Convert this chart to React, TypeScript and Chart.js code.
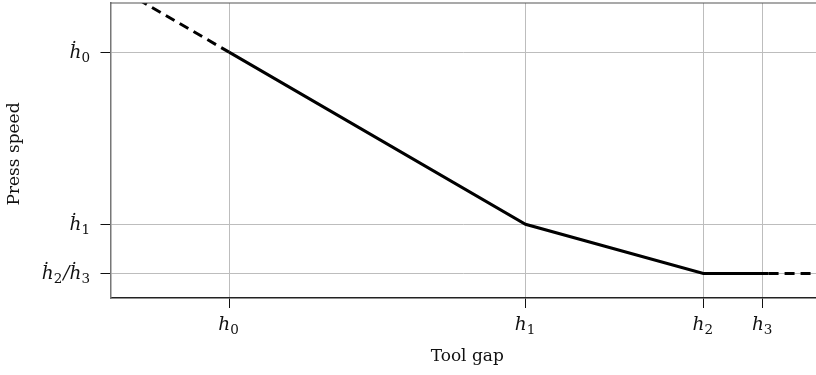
import React, { useEffect, useRef } from "react";
import { Chart, registerables } from "chart.js";

Chart.register(...registerables);

// Knot positions (data units)
const xTickValues = [2, 7, 10, 11];
const xTickLabels = ["h_0", "h_1", "h_2", "h_3"];
const yTickValues = [5.5, 2, 1];
const yTickLabels = ["ḣ_0", "ḣ_1", "ḣ_2/ḣ_3"];

// Curve segments
const leadX = [0, 2];
const leadY = [6.9, 5.5];
const solidX = [2, 7, 10, 11.1];
const solidY = [5.5, 2, 1, 1];
const tailX = [11.1, 11.9];
const tailY = [1, 1];

const xTitle = "Tool gap";
const yTitle = "Press speed";

const SERIF = '"DejaVu Serif", "Liberation Serif", serif';

function toPts(xs: number[], ys: number[]) {
  return xs.map((x, i) => ({ x, y: ys[i] }));
}

function parseLabel(s: string) {
  const segs: { text: string; sub: boolean }[] = [];
  let i = 0;
  while (i < s.length) {
    if (s[i] === "_") {
      segs.push({ text: s[i + 1], sub: true });
      i += 2;
    } else {
      let j = i;
      let t = "";
      while (j < s.length && s[j] !== "_") {
        t += s[j];
        j++;
      }
      segs.push({ text: t, sub: false });
      i = j;
    }
  }
  return segs;
}

const MAIN_FONT = `italic 18.5px ${SERIF}`;
const SUB_FONT = `13.5px ${SERIF}`;

function drawMath(ctx: CanvasRenderingContext2D, s: string, x: number, baseline: number, align: "center" | "right") {
  const segs = parseLabel(s);
  let total = 0;
  const widths = segs.map((sg) => {
    ctx.font = sg.sub ? SUB_FONT : MAIN_FONT;
    const w = ctx.measureText(sg.text).width + (sg.sub ? 1 : 0);
    total += w;
    return w;
  });
  let cx = align === "center" ? x - total / 2 : x - total;
  ctx.textAlign = "left";
  ctx.textBaseline = "alphabetic";
  ctx.fillStyle = "#111";
  segs.forEach((sg, k) => {
    ctx.font = sg.sub ? SUB_FONT : MAIN_FONT;
    ctx.fillText(sg.text, cx, baseline + (sg.sub ? 4 : 0));
    cx += widths[k];
  });
}

const labelPlugin = {
  id: "labelPlugin",
  afterDraw(chart: any) {
    const ctx: CanvasRenderingContext2D = chart.ctx;
    const { chartArea, scales } = chart;
    ctx.save();
    ctx.strokeStyle = "#555";
    ctx.lineWidth = 1.2;
    ctx.beginPath();
    ctx.moveTo(chartArea.left, chartArea.top);
    ctx.lineTo(chartArea.right, chartArea.top);
    ctx.stroke();
    xTickValues.forEach((v, i) => {
      const px = scales.x.getPixelForValue(v);
      drawMath(ctx, xTickLabels[i], px, 330, "center");
    });
    yTickValues.forEach((v, i) => {
      const py = scales.y.getPixelForValue(v);
      drawMath(ctx, yTickLabels[i], 91, py + 6, "right");
    });
    ctx.fillStyle = "#111";
    ctx.font = `17px ${SERIF}`;
    ctx.textAlign = "center";
    ctx.textBaseline = "middle";
    ctx.fillText(xTitle, (chartArea.left + chartArea.right) / 2 + 4, 357);
    ctx.translate(15, 154);
    ctx.rotate(-Math.PI / 2);
    ctx.fillText(yTitle, 0, 0);
    ctx.restore();
  },
};

export default function App() {
  const ref = useRef<HTMLCanvasElement>(null);
  useEffect(() => {
    if (!ref.current) return;
    const chart = new Chart(ref.current, {
      type: "line",
      data: {
        datasets: [
          {
            data: toPts(leadX, leadY),
            borderColor: "#000",
            borderWidth: 3,
            borderDash: [10, 6],
            pointRadius: 0,
            borderCapStyle: "butt",
          },
          {
            data: toPts(solidX, solidY),
            borderColor: "#000",
            borderWidth: 3,
            pointRadius: 0,
            borderJoinStyle: "miter",
          },
          {
            data: toPts(tailX, tailY),
            borderColor: "#000",
            borderWidth: 3,
            borderDash: [10, 6],
            pointRadius: 0,
            borderCapStyle: "butt",
          },
        ],
      },
      options: {
        animation: false,
        responsive: false,
        layout: { padding: { top: 3, right: 0, left: 0, bottom: 0 } },
        plugins: { legend: { display: false }, tooltip: { enabled: false } },
        scales: {
          x: {
            type: "linear",
            min: 0,
            max: 11.9,
            afterBuildTicks: (s: any) => {
              s.ticks = xTickValues.map((v) => ({ value: v }));
            },
            afterFit: (s: any) => {
              s.height = 77;
            },
            ticks: { display: false },
            grid: { color: "#bdbdbd", lineWidth: 1, tickLength: 10, tickColor: "#111", drawTicks: true },
            border: { color: "#222", width: 1.5 },
          },
          y: {
            type: "linear",
            min: 0.5,
            max: 6.5,
            afterBuildTicks: (s: any) => {
              s.ticks = yTickValues.map((v) => ({ value: v }));
            },
            afterFit: (s: any) => {
              s.width = 110.5;
            },
            ticks: { display: false },
            grid: { color: "#bdbdbd", lineWidth: 1, tickLength: 10, tickColor: "#111", drawTicks: true },
            border: { color: "#777", width: 1.5 },
          },
        },
      },
      plugins: [labelPlugin],
    } as any);
    return () => chart.destroy();
  }, []);
  return (
    <div style={{ position: "fixed", left: 0, top: 0, width: 816, height: 375, background: "#fff" }}>
      <canvas ref={ref} width={816} height={375} />
    </div>
  );
}
